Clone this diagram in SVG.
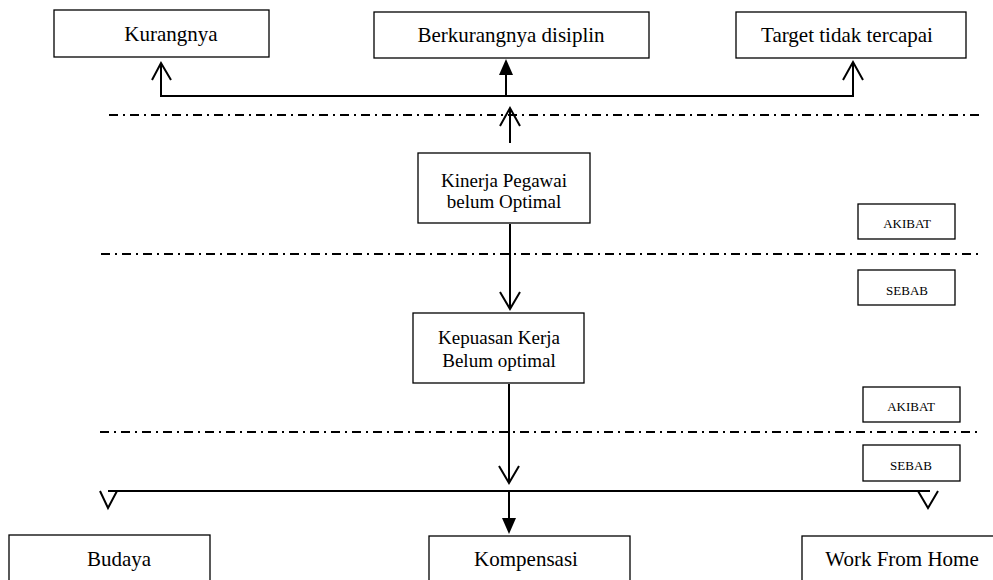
<svg xmlns="http://www.w3.org/2000/svg" width="993" height="580" viewBox="0 0 993 580">
<style>
.box{fill:#fff;stroke:#000;stroke-width:1.3}
.t{font-family:"Liberation Serif","Times New Roman",serif;font-size:21px;fill:#000;text-anchor:middle}
.m{font-size:19px}
.s{font-size:13px}
.c{fill:none;stroke:#000;stroke-width:2}
.dash{fill:none;stroke:#000;stroke-width:2;stroke-dasharray:9,5,2,5}
</style>
<rect width="993" height="580" fill="#fff"/>
<g id="dashlines">
<line class="dash" x1="109" y1="115" x2="982" y2="115"/>
<line class="dash" x1="101" y1="254" x2="980" y2="254"/>
<line class="dash" x1="100" y1="432" x2="980" y2="432"/>
</g>
<g id="n-kurangnya"><rect class="box" x="54" y="10" width="215" height="47"/><text class="t" x="171" y="41">Kurangnya</text></g>
<g id="n-disiplin"><rect class="box" x="374" y="12" width="275" height="46"/><text class="t" x="511" y="42">Berkurangnya disiplin</text></g>
<g id="n-target"><rect class="box" x="736" y="12" width="230" height="46"/><text class="t" x="847" y="42">Target tidak tercapai</text></g>
<g id="n-kinerja"><rect class="box" x="418" y="153" width="172" height="70"/><text class="t m" x="504" y="187">Kinerja Pegawai</text><text class="t m" x="504" y="208">belum Optimal</text></g>
<g id="n-kepuasan"><rect class="box" x="413" y="313" width="171" height="70"/><text class="t m" x="499" y="344">Kepuasan Kerja</text><text class="t m" x="499" y="367">Belum optimal</text></g>
<g id="n-akibat1"><rect class="box" x="858" y="204" width="97" height="35"/><text class="t s" x="907" y="228">AKIBAT</text></g>
<g id="n-sebab1"><rect class="box" x="858" y="270" width="97" height="35"/><text class="t s" x="907" y="295">SEBAB</text></g>
<g id="n-akibat2"><rect class="box" x="863" y="387" width="97" height="35"/><text class="t s" x="911" y="411">AKIBAT</text></g>
<g id="n-sebab2"><rect class="box" x="863" y="445" width="97" height="36"/><text class="t s" x="911" y="470">SEBAB</text></g>
<g id="n-budaya"><rect class="box" x="9" y="535" width="201" height="60"/><text class="t" x="119" y="566">Budaya</text></g>
<g id="n-kompensasi"><rect class="box" x="429" y="536" width="201" height="60"/><text class="t" x="526" y="566">Kompensasi</text></g>
<g id="n-wfh"><rect class="box" x="802" y="536" width="200" height="60"/><text class="t" x="902" y="566">Work From Home</text></g>
<g id="connectors">
<polyline class="c" points="161,64 161,96 853,96 853,63"/>
<polyline class="c" points="152,80 161,63 171,80"/>
<polyline class="c" points="843,80 853,62 863,80"/>
<line class="c" x1="506" y1="96" x2="506" y2="74"/>
<polygon points="506,59 499,75 513,75" fill="#000"/>
<line class="c" x1="510" y1="143" x2="510" y2="109"/>
<polyline class="c" points="500,126 510,108 520,126"/>
<line class="c" x1="510" y1="224" x2="510" y2="308"/>
<polyline class="c" points="500,292 510,309 520,292"/>
<line class="c" x1="509" y1="384" x2="509" y2="482"/>
<polyline class="c" points="499,466 509,483 519,466"/>
<line class="c" x1="108" y1="491" x2="930" y2="491"/>
<polyline class="c" points="100,491 108,508 117,491"/>
<polyline class="c" points="918,491 928,508 938,491"/>
<line class="c" x1="509" y1="491" x2="509" y2="519"/>
<polygon points="509,534 502,518 516,518" fill="#000"/>
</g>
</svg>
